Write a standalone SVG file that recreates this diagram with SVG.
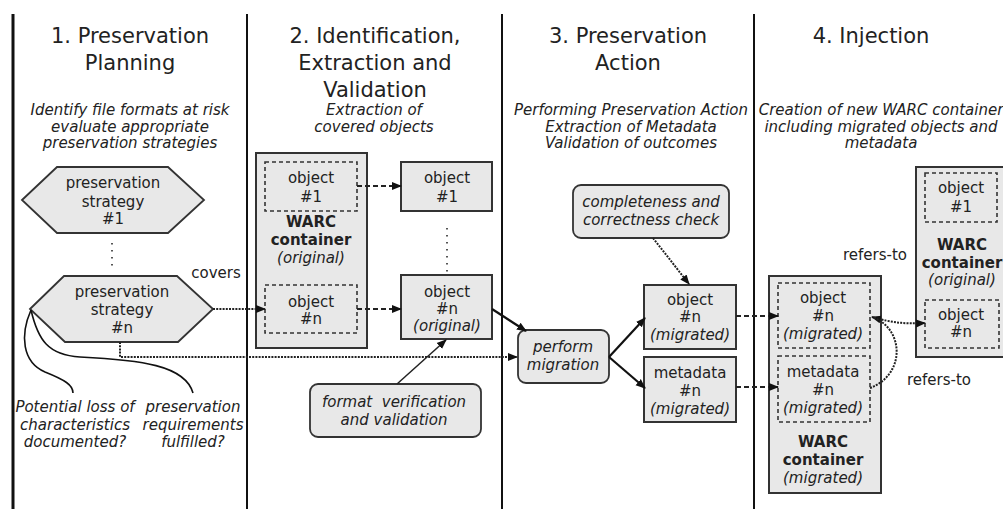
<svg xmlns="http://www.w3.org/2000/svg" width="1003" height="509" viewBox="0 0 1003 509">
<style>
text{font-family:"DejaVu Sans","Verdana",sans-serif;fill:#222;text-anchor:middle}
.t{font-size:21px}
.s{font-size:15px;font-style:italic}
.n{font-size:15px}
.b{font-size:15px;font-weight:bold}
.i{font-size:15px;font-style:italic}
.sep{stroke:#111;stroke-width:2}
.box{fill:#e8e8e8;stroke:#333;stroke-width:2}
.dbox{fill:none;stroke:#333;stroke-width:1.6;stroke-dasharray:4,3}
.rbox{fill:#e8e8e8;stroke:#333;stroke-width:1.8}
.solid{fill:none;stroke:#111;stroke-width:2.2}
.thin{fill:none;stroke:#222;stroke-width:1.5}
.dash{fill:none;stroke:#222;stroke-width:2;stroke-dasharray:5,3}
.dot{fill:none;stroke:#222;stroke-width:2;stroke-dasharray:2,1.2}
.dots{fill:none;stroke:#555;stroke-width:2;stroke-dasharray:1.5,5.5}
.curve{fill:none;stroke:#111;stroke-width:1.6}
</style>
<defs>
<marker id="ah" viewBox="0 0 10 10" refX="9" refY="5" markerWidth="10" markerHeight="10" markerUnits="userSpaceOnUse" orient="auto-start-reverse">
<path d="M0,1 L10,5 L0,9 z" fill="#111"/>
</marker>
</defs>
<rect width="1003" height="509" fill="#fff"/>

<g id="separators">
<line class="sep" x1="13" y1="14" x2="13" y2="509" style="stroke-width:3"/>
<line class="sep" x1="247" y1="14" x2="247" y2="509"/>
<line class="sep" x1="502" y1="14" x2="502" y2="509"/>
<line class="sep" x1="754" y1="14" x2="754" y2="509"/>
</g>

<g id="headers">
<text class="t" x="130" y="43">1. Preservation</text>
<text class="t" x="130" y="70">Planning</text>
<text class="t" x="375" y="43">2. Identification,</text>
<text class="t" x="375" y="70">Extraction and</text>
<text class="t" x="375" y="97">Validation</text>
<text class="t" x="628" y="43">3. Preservation</text>
<text class="t" x="628" y="70">Action</text>
<text class="t" x="871" y="43">4. Injection</text>
<text class="s" x="130" y="115">Identify file formats at risk</text>
<text class="s" x="130" y="132">evaluate appropriate</text>
<text class="s" x="130" y="148">preservation strategies</text>
<text class="s" x="374" y="115">Extraction of</text>
<text class="s" x="374" y="132">covered objects</text>
<text class="s" x="631" y="115">Performing Preservation Action</text>
<text class="s" x="631" y="132">Extraction of Metadata</text>
<text class="s" x="631" y="148">Validation of outcomes</text>
<text class="s" x="881" y="115">Creation of new WARC container</text>
<text class="s" x="881" y="132">including migrated objects and</text>
<text class="s" x="881" y="148">metadata</text>
</g>

<g id="strategy1">
<polygon class="rbox" points="22,200 57,167 168,167 204,200 168,233 57,233"/>
<text class="n" x="113" y="188">preservation</text>
<text class="n" x="113" y="207">strategy</text>
<text class="n" x="113" y="224">#1</text>
</g>
<line class="dots" x1="112" y1="243" x2="112" y2="270"/>

<g id="strategyn">
<polygon class="rbox" points="30,309 64,276 177,276 213,309 178,342 65,342"/>
<text class="n" x="122" y="297">preservation</text>
<text class="n" x="122" y="315">strategy</text>
<text class="n" x="122" y="333">#n</text>
</g>

<g id="questions">
<text class="i" x="75" y="412">Potential loss of</text>
<text class="i" x="75" y="430">characteristics</text>
<text class="i" x="75" y="447">documented?</text>
<text class="i" x="193" y="412">preservation</text>
<text class="i" x="193" y="430">requirements</text>
<text class="i" x="193" y="447">fulfilled?</text>
</g>

<g id="warc-original">
<rect class="box" x="256" y="153" width="111" height="195"/>
<rect class="dbox" x="265" y="162" width="92" height="49"/>
<text class="n" x="311" y="183">object</text>
<text class="n" x="311" y="202">#1</text>
<text class="b" x="311" y="227">WARC</text>
<text class="b" x="311" y="245">container</text>
<text class="i" x="311" y="263">(original)</text>
<rect class="dbox" x="265" y="285" width="92" height="48"/>
<text class="n" x="311" y="307">object</text>
<text class="n" x="311" y="324">#n</text>
</g>

<g id="object1">
<rect class="box" x="401" y="162" width="91" height="49"/>
<text class="n" x="447" y="183">object</text>
<text class="n" x="447" y="202">#1</text>
</g>
<line class="dots" x1="447" y1="228" x2="447" y2="272"/>

<g id="objectn-original">
<rect class="box" x="401" y="275" width="91" height="64"/>
<text class="n" x="447" y="297">object</text>
<text class="n" x="447" y="314">#n</text>
<text class="i" x="447" y="331">(original)</text>
</g>

<g id="format-verification">
<rect class="rbox" x="310" y="384" width="171" height="53" rx="8"/>
<text class="i" x="394" y="407" xml:space="preserve">format  verification</text>
<text class="i" x="394" y="425">and validation</text>
</g>

<g id="completeness">
<rect class="rbox" x="573" y="185" width="156" height="53" rx="8"/>
<text class="i" x="651" y="207">completeness and</text>
<text class="i" x="651" y="225">correctness check</text>
</g>

<g id="perform-migration">
<rect class="rbox" x="518" y="330" width="91" height="53" rx="8"/>
<text class="i" x="563" y="352">perform</text>
<text class="i" x="563" y="370">migration</text>
</g>

<g id="object-migrated">
<rect class="box" x="644" y="285" width="92" height="64"/>
<text class="n" x="690" y="305">object</text>
<text class="n" x="690" y="322">#n</text>
<text class="i" x="690" y="340">(migrated)</text>
</g>

<g id="metadata-migrated">
<rect class="box" x="644" y="357" width="92" height="65"/>
<text class="n" x="690" y="378">metadata</text>
<text class="n" x="690" y="396">#n</text>
<text class="i" x="690" y="414">(migrated)</text>
</g>

<g id="warc-migrated">
<rect class="box" x="769" y="276" width="112" height="217"/>
<rect class="dbox" x="778" y="283" width="92" height="65"/>
<text class="n" x="823" y="303">object</text>
<text class="n" x="823" y="321">#n</text>
<text class="i" x="823" y="339">(migrated)</text>
<rect class="dbox" x="778" y="356" width="92" height="66"/>
<text class="n" x="823" y="377">metadata</text>
<text class="n" x="823" y="395">#n</text>
<text class="i" x="823" y="413">(migrated)</text>
<text class="b" x="823" y="447">WARC</text>
<text class="b" x="823" y="465">container</text>
<text class="i" x="823" y="483">(migrated)</text>
</g>

<g id="warc-original-right">
<rect class="box" x="916" y="167" width="95" height="190"/>
<rect class="dbox" x="925" y="173" width="72" height="49"/>
<text class="n" x="961" y="193">object</text>
<text class="n" x="961" y="212">#1</text>
<text class="b" x="962" y="250">WARC</text>
<text class="b" x="962" y="268">container</text>
<text class="i" x="962" y="285">(original)</text>
<rect class="dbox" x="925" y="300" width="74" height="48"/>
<text class="n" x="961" y="320">object</text>
<text class="n" x="961" y="337">#n</text>
</g>

<g id="connectors">
<path class="curve" d="M31,310 C20,335 22,362 45,372 C65,380 73,385 73,393"/>
<path class="curve" d="M31,310 C38,340 48,355 80,357 C140,360 185,365 193,393"/>
<path class="dot" d="M213,309 L265,309" marker-end="url(#ah)"/>
<path class="dot" d="M120,342 L120,357 L517,357" marker-end="url(#ah)"/>
<path class="dash" d="M357,186 L401,186" marker-end="url(#ah)"/>
<path class="dash" d="M357,309 L401,309" marker-end="url(#ah)"/>
<path class="solid" d="M492,309 L526,331" marker-end="url(#ah)"/>
<path class="thin" d="M397,384 L446,340" marker-end="url(#ah)"/>
<path class="dot" d="M653,238 L689,284" marker-end="url(#ah)"/>
<path class="solid" d="M609,357 L645,318" marker-end="url(#ah)"/>
<path class="solid" d="M609,357 L645,388" marker-end="url(#ah)"/>
<path class="dash" d="M736,316 L778,316" marker-end="url(#ah)"/>
<path class="dash" d="M736,387 L778,387" marker-end="url(#ah)"/>
<path class="dot" d="M872,317 C893,323 905,324 925,323" marker-start="url(#ah)" marker-end="url(#ah)"/>
<path class="dot" d="M870,388 C905,375 905,330 873,317"/>
<text class="n" x="875" y="260">refers-to</text>
<text class="n" x="939" y="385">refers-to</text>
<text class="n" x="216" y="278">covers</text>
</g>
</svg>
